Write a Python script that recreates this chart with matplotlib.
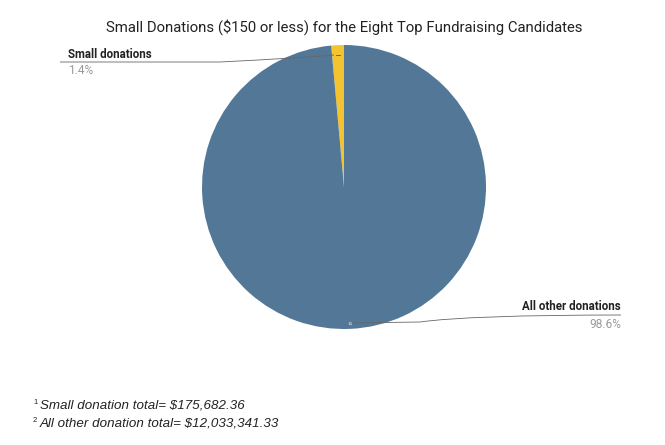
import numpy as np
import matplotlib.pyplot as plt
from matplotlib.path import Path
from matplotlib.patches import PathPatch

labels = ['Small donations', 'All other donations']
totals = [175682.36, 12033341.33]
colors = ['#f4c430', '#537897']
footnotes = ['Small donation total= $175,682.36', 'All other donation total= $12,033,341.33']

W, H = 665, 445
fig = plt.figure(figsize=(W / 100, H / 100), dpi=100)


def fx(px):
    return px / W


def fy(py):
    return 1 - py / H


cx, cy, r = 344, 187, 142
ax = fig.add_axes([fx(cx - r), fy(cy + r), 2 * r / W, 2 * r / H])
wedges, _ = ax.pie(totals, colors=colors, startangle=90, counterclock=True,
                   wedgeprops=dict(linewidth=0))
ax.set_xlim(-1, 1)
ax.set_ylim(-1, 1)
ax.set_aspect('auto')
ax.axis('off')

fig.text(fx(344), fy(27), 'Small Donations ($150 or less) for the Eight Top Fundraising Candidates',
         ha='center', va='center', fontsize=10.7, family='Roboto', color='#222222')

pct = np.array(totals) / sum(totals) * 100

# leader lines in figure pixel coords
def leader(points):
    verts = [(fx(x), fy(y)) for x, y in points]
    codes = [Path.MOVETO, Path.LINETO, Path.CURVE3, Path.CURVE3]
    fig.add_artist(PathPatch(Path(verts, codes), transform=fig.transFigure,
                             fill=False, lw=0.6, color='#666666'))

# point on each wedge
mid0 = np.deg2rad((wedges[0].theta1 + wedges[0].theta2) / 2)
p0 = (cx + 0.93 * r * np.cos(mid0), cy - 0.93 * r * np.sin(mid0))
leader([(60, 62), (220, 62), (300, 58), (p0[0] - 4, p0[1])])
ax.plot([0.93 * np.cos(mid0) - 0.015, 0.93 * np.cos(mid0) + 0.015],
        [0.93 * np.sin(mid0)] * 2, color='#555555', lw=0.6)

p1 = (350, 323)
leader([(p1[0], p1[1]), (420, 322), (470, 315), (621, 315)])
ax.plot(0.04, -0.96, 'o', ms=1.5, color='#aabbcc')

fig.text(fx(68), fy(54), labels[0], ha='left', va='center', fontsize=8.3,
         fontweight='bold', family='Roboto', color='#222222')
fig.text(fx(68), fy(71), f'{pct[0]:.1f}%', ha='left', va='center', fontsize=8.6,
         family='Roboto', color='#999999')
fig.text(fx(621), fy(307), labels[1], ha='right', va='center', fontsize=8.3,
         fontweight='bold', family='Roboto', color='#222222')
fig.text(fx(621), fy(324), f'{pct[1]:.1f}%', ha='right', va='center', fontsize=8.6,
         family='Roboto', color='#999999')

for i, (note, y) in enumerate(zip(footnotes, [406, 424])):
    fig.text(fx(33), fy(y - 4), str(i + 1), ha='left', va='center', fontsize=5.5,
             family='Liberation Sans', color='#222222')
    fig.text(fx(40), fy(y), note, ha='left', va='center', fontsize=9.6,
             style='italic', family='Liberation Sans', color='#222222')

fig.savefig('out.png', dpi=100)
